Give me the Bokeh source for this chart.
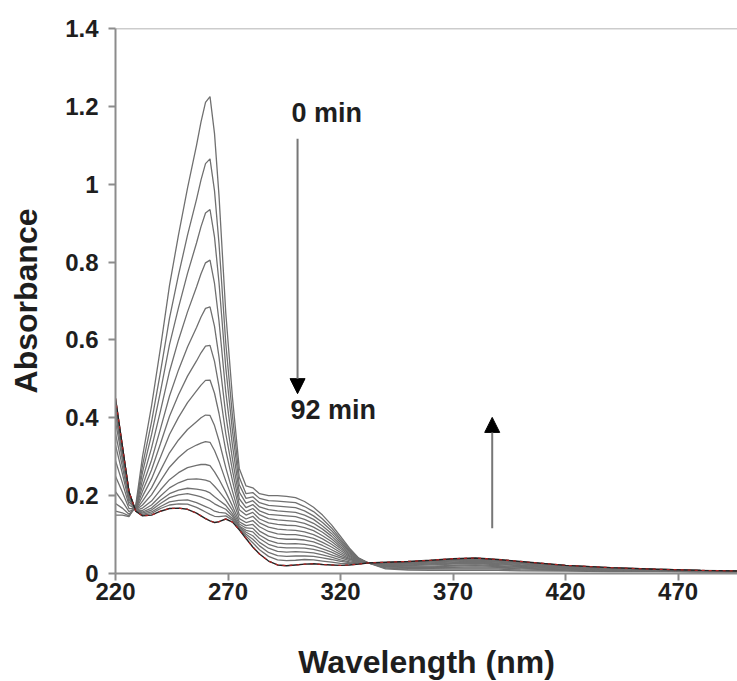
from bokeh.plotting import figure
from bokeh.models import Range1d, FixedTicker, NumeralTickFormatter, Arrow, NormalHead, Label, Span
from bokeh.embed import file_html
from bokeh.resources import INLINE

wavelength = [220, 223, 226, 229, 232, 236, 240, 244, 248, 252, 256, 258, 260, 262, 264, 266, 269, 272, 275, 278,
              281, 284, 288, 292, 296, 300, 304, 308, 312, 316, 320, 324, 328, 332,
              340, 350, 360, 370, 380, 390, 400, 420, 440, 460, 480, 500]

s00 = [0.150, 0.150, 0.146, 0.175, 0.300, 0.430, 0.580, 0.740, 0.870, 0.990, 1.100, 1.160, 1.210, 1.225, 1.130, 0.970, 0.670, 0.450, 0.270, 0.225,
       0.220, 0.205, 0.200, 0.200, 0.198, 0.195, 0.185, 0.170, 0.150, 0.125, 0.095, 0.065, 0.040, 0.028,
       0.012, 0.009, 0.008, 0.008, 0.008, 0.008, 0.007, 0.006, 0.005, 0.005, 0.004, 0.004]
s01 = [0.160, 0.156, 0.148, 0.171, 0.278, 0.389, 0.518, 0.656, 0.767, 0.869, 0.961, 1.011, 1.053, 1.065, 0.983, 0.847, 0.592, 0.403, 0.247, 0.205,
       0.208, 0.193, 0.187, 0.186, 0.184, 0.182, 0.172, 0.159, 0.140, 0.117, 0.089, 0.062, 0.039, 0.028,
       0.014, 0.011, 0.011, 0.011, 0.011, 0.011, 0.009, 0.008, 0.006, 0.006, 0.004, 0.004]
s02 = [0.180, 0.168, 0.152, 0.169, 0.260, 0.356, 0.468, 0.588, 0.683, 0.771, 0.849, 0.891, 0.926, 0.935, 0.864, 0.747, 0.529, 0.365, 0.228, 0.193,
       0.197, 0.182, 0.175, 0.173, 0.171, 0.169, 0.161, 0.148, 0.131, 0.110, 0.084, 0.059, 0.038, 0.028,
       0.015, 0.013, 0.013, 0.014, 0.014, 0.014, 0.012, 0.009, 0.007, 0.006, 0.005, 0.004]
s03 = [0.210, 0.186, 0.159, 0.167, 0.241, 0.322, 0.418, 0.519, 0.600, 0.672, 0.736, 0.770, 0.798, 0.805, 0.745, 0.648, 0.466, 0.328, 0.209, 0.181,
       0.187, 0.171, 0.164, 0.161, 0.159, 0.157, 0.150, 0.139, 0.122, 0.103, 0.079, 0.056, 0.037, 0.028,
       0.017, 0.015, 0.015, 0.016, 0.017, 0.016, 0.014, 0.010, 0.008, 0.007, 0.005, 0.005]
s04 = [0.250, 0.210, 0.167, 0.166, 0.225, 0.291, 0.372, 0.456, 0.523, 0.582, 0.632, 0.659, 0.681, 0.685, 0.635, 0.556, 0.408, 0.293, 0.192, 0.169,
       0.177, 0.161, 0.152, 0.150, 0.148, 0.146, 0.139, 0.129, 0.114, 0.096, 0.074, 0.053, 0.035, 0.028,
       0.018, 0.017, 0.017, 0.019, 0.020, 0.018, 0.016, 0.011, 0.009, 0.007, 0.005, 0.005]
s05 = [0.290, 0.234, 0.176, 0.165, 0.211, 0.266, 0.334, 0.404, 0.459, 0.507, 0.546, 0.567, 0.584, 0.586, 0.545, 0.480, 0.359, 0.264, 0.177, 0.159,
       0.167, 0.151, 0.141, 0.138, 0.136, 0.134, 0.129, 0.119, 0.106, 0.089, 0.069, 0.050, 0.034, 0.028,
       0.020, 0.019, 0.019, 0.021, 0.022, 0.020, 0.018, 0.013, 0.009, 0.008, 0.006, 0.005]
s06 = [0.330, 0.258, 0.184, 0.164, 0.198, 0.243, 0.299, 0.357, 0.401, 0.439, 0.469, 0.484, 0.496, 0.497, 0.463, 0.411, 0.316, 0.238, 0.164, 0.150,
       0.157, 0.140, 0.130, 0.126, 0.124, 0.123, 0.118, 0.110, 0.097, 0.082, 0.064, 0.047, 0.033, 0.027,
       0.021, 0.020, 0.022, 0.024, 0.025, 0.023, 0.020, 0.014, 0.010, 0.008, 0.006, 0.005]
s07 = [0.360, 0.276, 0.191, 0.163, 0.186, 0.220, 0.265, 0.310, 0.343, 0.370, 0.390, 0.400, 0.407, 0.406, 0.380, 0.341, 0.272, 0.211, 0.151, 0.140,
       0.147, 0.130, 0.119, 0.114, 0.112, 0.111, 0.107, 0.100, 0.089, 0.075, 0.059, 0.044, 0.032, 0.027,
       0.022, 0.022, 0.024, 0.026, 0.027, 0.025, 0.021, 0.015, 0.011, 0.009, 0.006, 0.005]
s08 = [0.390, 0.294, 0.197, 0.163, 0.176, 0.202, 0.238, 0.273, 0.298, 0.318, 0.330, 0.335, 0.339, 0.337, 0.316, 0.288, 0.238, 0.191, 0.141, 0.131,
       0.136, 0.120, 0.108, 0.102, 0.100, 0.100, 0.096, 0.090, 0.080, 0.068, 0.054, 0.041, 0.031, 0.027,
       0.023, 0.024, 0.025, 0.028, 0.029, 0.027, 0.023, 0.016, 0.012, 0.009, 0.007, 0.005]
s09 = [0.410, 0.306, 0.201, 0.162, 0.168, 0.186, 0.215, 0.241, 0.259, 0.272, 0.278, 0.280, 0.280, 0.277, 0.261, 0.242, 0.209, 0.173, 0.133, 0.123,
       0.126, 0.109, 0.096, 0.090, 0.088, 0.088, 0.086, 0.081, 0.072, 0.061, 0.049, 0.038, 0.030, 0.027,
       0.025, 0.025, 0.027, 0.030, 0.032, 0.029, 0.025, 0.017, 0.012, 0.009, 0.007, 0.006]
s10 = [0.420, 0.312, 0.204, 0.161, 0.162, 0.176, 0.199, 0.220, 0.233, 0.242, 0.243, 0.242, 0.240, 0.236, 0.224, 0.211, 0.189, 0.162, 0.127, 0.117,
       0.116, 0.099, 0.085, 0.078, 0.076, 0.077, 0.075, 0.071, 0.063, 0.055, 0.044, 0.036, 0.029, 0.027,
       0.026, 0.027, 0.029, 0.032, 0.034, 0.030, 0.026, 0.018, 0.013, 0.010, 0.007, 0.006]
s11 = [0.430, 0.318, 0.206, 0.161, 0.158, 0.168, 0.188, 0.205, 0.214, 0.219, 0.217, 0.215, 0.212, 0.207, 0.197, 0.188, 0.175, 0.153, 0.122, 0.111,
       0.107, 0.090, 0.075, 0.068, 0.066, 0.066, 0.065, 0.062, 0.056, 0.048, 0.040, 0.033, 0.028, 0.027,
       0.027, 0.028, 0.030, 0.034, 0.035, 0.032, 0.027, 0.019, 0.014, 0.010, 0.007, 0.006]
s12 = [0.440, 0.324, 0.208, 0.161, 0.155, 0.163, 0.180, 0.195, 0.202, 0.205, 0.200, 0.197, 0.192, 0.187, 0.179, 0.173, 0.165, 0.147, 0.120, 0.106,
       0.097, 0.080, 0.065, 0.057, 0.055, 0.056, 0.055, 0.053, 0.048, 0.042, 0.035, 0.030, 0.027, 0.027,
       0.027, 0.029, 0.031, 0.035, 0.037, 0.033, 0.029, 0.020, 0.014, 0.010, 0.008, 0.006]
s13 = [0.445, 0.327, 0.209, 0.161, 0.152, 0.158, 0.172, 0.184, 0.188, 0.189, 0.182, 0.177, 0.172, 0.167, 0.160, 0.157, 0.155, 0.141, 0.117, 0.101,
       0.088, 0.071, 0.054, 0.046, 0.044, 0.045, 0.045, 0.044, 0.040, 0.036, 0.031, 0.028, 0.026, 0.027,
       0.028, 0.030, 0.032, 0.036, 0.038, 0.034, 0.030, 0.020, 0.014, 0.011, 0.008, 0.006]
s14 = [0.450, 0.330, 0.210, 0.160, 0.150, 0.154, 0.167, 0.176, 0.179, 0.178, 0.170, 0.164, 0.158, 0.152, 0.147, 0.146, 0.148, 0.137, 0.115, 0.096,
       0.079, 0.061, 0.044, 0.035, 0.033, 0.034, 0.036, 0.035, 0.032, 0.029, 0.026, 0.025, 0.025, 0.027,
       0.028, 0.030, 0.033, 0.037, 0.039, 0.035, 0.030, 0.021, 0.015, 0.011, 0.008, 0.006]
s15 = [0.450, 0.330, 0.210, 0.160, 0.148, 0.150, 0.160, 0.167, 0.168, 0.165, 0.155, 0.148, 0.141, 0.135, 0.131, 0.133, 0.140, 0.132, 0.112, 0.090,
       0.068, 0.050, 0.032, 0.022, 0.020, 0.022, 0.024, 0.025, 0.023, 0.022, 0.021, 0.022, 0.024, 0.027,
       0.029, 0.031, 0.034, 0.038, 0.040, 0.036, 0.031, 0.021, 0.015, 0.011, 0.008, 0.006]

spectra = [s00, s01, s02, s03, s04, s05, s06, s07, s08, s09, s10, s11, s12, s13, s14, s15]

x_ticks = [220, 270, 320, 370, 420, 470]
y_ticks = [0, 0.2, 0.4, 0.6, 0.8, 1.0, 1.2, 1.4]

FONT = "Liberation Sans"
AXIS_GRAY = "#8c8c8c"
TEXT = "#1e1e1e"

p = figure(frame_width=622, frame_height=545,
           x_range=Range1d(220, 496.4), y_range=Range1d(0, 1.4),
           output_backend="svg", toolbar_location=None,
           min_border_left=115, min_border_top=28, min_border_right=0, min_border_bottom=100)

p.xgrid.visible = False
p.ygrid.visible = False
p.outline_line_color = None
p.background_fill_color = "white"
p.border_fill_color = "white"

for s in spectra[:-1]:
    p.line(wavelength, s, line_color="#707070", line_width=1.3)
p.line(wavelength, spectra[-1], line_color="#222222", line_width=1.4)
p.line(wavelength, spectra[-1], line_color="#b22222", line_width=1.2, line_dash="3 4")

p.add_layout(Span(location=1.4, dimension="width", line_color="#9a9a9a", line_width=1.5))

for ax in (p.xaxis[0], p.yaxis[0]):
    ax.axis_line_color = AXIS_GRAY
    ax.axis_line_width = 2
    ax.major_tick_line_color = AXIS_GRAY
    ax.major_tick_line_width = 2
    ax.major_tick_out = 7
    ax.major_tick_in = 0
    ax.minor_tick_line_color = None
    ax.major_label_text_font = FONT
    ax.major_label_text_font_style = "bold"
    ax.major_label_text_font_size = "24px"
    ax.major_label_text_color = TEXT
    ax.axis_label_text_font = FONT
    ax.axis_label_text_font_style = "bold"
    ax.axis_label_text_font_size = "32px"
    ax.axis_label_text_color = TEXT

p.xaxis.ticker = FixedTicker(ticks=x_ticks)
p.yaxis.ticker = FixedTicker(ticks=y_ticks)
p.yaxis.formatter = NumeralTickFormatter(format="0.[0]")
p.xaxis.axis_label = "Wavelength (nm)"
p.yaxis.axis_label = "Absorbance"
p.xaxis.major_label_standoff = 2
p.yaxis.major_label_standoff = 10
p.xaxis.axis_label_standoff = 41
p.yaxis.axis_label_standoff = 18

p.add_layout(Arrow(end=NormalHead(size=15, fill_color="black", line_color="black"),
                   x_start=300.9, y_start=1.117, x_end=300.9, y_end=0.462,
                   line_color="#777777", line_width=2))
p.add_layout(Arrow(end=NormalHead(size=15, fill_color="black", line_color="black"),
                   x_start=387.4, y_start=0.116, x_end=387.4, y_end=0.401,
                   line_color="#777777", line_width=2))

p.add_layout(Label(x=298.2, y=1.182, text="0 min", text_baseline="middle",
                   text_font=FONT, text_font_style="bold", text_font_size="27px", text_color=TEXT))
p.add_layout(Label(x=297.8, y=0.419, text="92 min", text_baseline="middle",
                   text_font=FONT, text_font_style="bold", text_font_size="27px", text_color=TEXT))

open("out.html", "w").write(file_html(p, INLINE))
